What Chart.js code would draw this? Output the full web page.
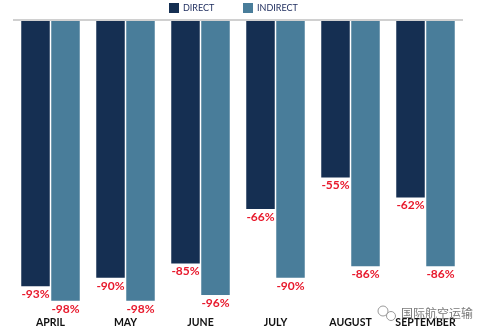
<!DOCTYPE html>
<html>
<head>
<meta charset="utf-8">
<script src="https://cdn.jsdelivr.net/npm/chart.js@4.4.1/dist/chart.umd.min.js"></script>
<style>
  html, body { margin: 0; padding: 0; background: #fff; }
  #wrap { width: 487px; height: 335px; }
</style>
</head>
<body>
<div id="wrap"><canvas id="trafficChart"></canvas></div>
<script>
const months = ['APRIL', 'MAY', 'JUNE', 'JULY', 'AUGUST', 'SEPTEMBER'];
const directChange = [-93, -90, -85, -66, -55, -62];
const indirectChange = [-98, -98, -96, -90, -86, -86];

// legend row at the top: square + name per dataset
const topLegend = {
    id: 'topLegend',
    afterDraw(chart) {
        const c = chart.ctx;
        const starts = [169, 243];
        c.save();
        c.font = '9px Lato';
        c.textBaseline = 'middle';
        chart.data.datasets.forEach((ds, i) => {
            c.fillStyle = ds.backgroundColor;
            c.fillRect(starts[i], 3, 10, 10);
            c.fillStyle = '#1b2a5c';
            c.fillText(ds.label, starts[i] + 14, 8.5);
        });
        c.restore();
    }
};

// red % labels under each bar end
const valueLabels = {
    id: 'valueLabels',
    afterDatasetsDraw(chart) {
        const c = chart.ctx;
        c.save();
        c.font = 'bold 12px Lato';
        c.fillStyle = '#e8192c';
        c.textAlign = 'center';
        c.textBaseline = 'middle';
        chart.data.datasets.forEach((ds, i) => {
            chart.getDatasetMeta(i).data.forEach((bar, j) => {
                c.fillText(ds.data[j] + '%', bar.x, bar.y + 8);
            });
        });
        c.restore();
    }
};

// account name in the bottom right corner
const stamp = {
    id: 'stamp',
    afterDraw(chart) {
        const c = chart.ctx;
        c.save();
        c.strokeStyle = '#9a9a9a';
        c.lineWidth = 1;
        c.beginPath(); c.arc(383, 311, 5, 0, Math.PI * 2); c.stroke();
        c.beginPath(); c.arc(391, 316, 4.5, 0, Math.PI * 2); c.stroke();
        c.font = '12px "Noto Sans CJK SC"';
        c.fillStyle = '#7a7a7a';
        c.textBaseline = 'middle';
        c.fillText('国际航空运输', 401, 313);
        c.restore();
    }
};

let ctx = document.getElementById('trafficChart').getContext('2d');

let myChart = new Chart(ctx, {
    type: 'bar',
    data: {
        labels: months,
        datasets: [{
            label: 'DIRECT',
            data: directChange,
            backgroundColor: '#152f52',
            barPercentage: 0.95,
            categoryPercentage: 0.8
        },
        {
            label: 'INDIRECT',
            data: indirectChange,
            backgroundColor: '#497d9a',
            barPercentage: 0.95,
            categoryPercentage: 0.8
        }]
    },
    options: {
        responsive: true,
        maintainAspectRatio: false,
        animation: false,
        layout: {
            padding: { left: 13, right: 24, top: 20, bottom: -4 }
        },
        plugins: {
            legend: { display: false },
            tooltip: { enabled: false }
        },
        scales: {
            x: {
                grid: { display: false, drawTicks: false },
                border: { display: false },
                ticks: {
                    color: '#111',
                    padding: 10,
                    font: { family: 'Lato', size: 10.5, weight: 'bold' }
                }
            },
            y: {
                min: -100,
                max: 0,
                ticks: { display: false },
                border: { display: false },
                grid: {
                    drawTicks: false,
                    lineWidth: 2,
                    color: (c) => c.tick && c.tick.value === 0 ? '#d0d0d0' : 'rgba(0,0,0,0)'
                }
            }
        }
    },
    plugins: [topLegend, valueLabels, stamp]
});
</script>
</body>
</html>
